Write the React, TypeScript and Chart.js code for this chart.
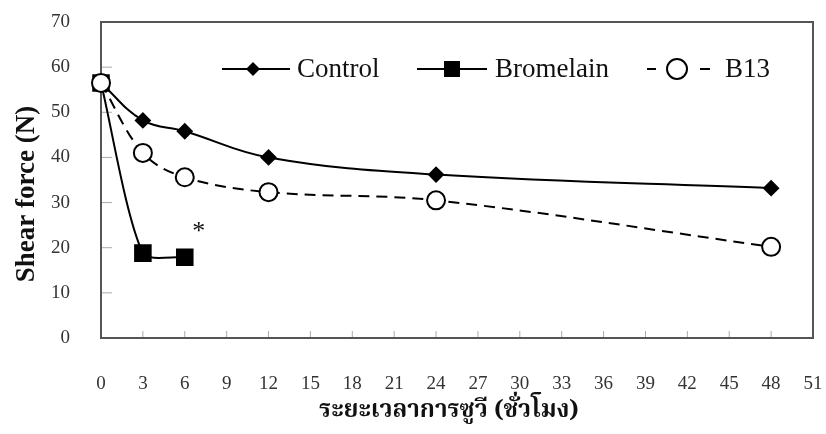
import React, { useEffect, useRef } from "react";
import { Chart, registerables } from "chart.js";

Chart.register(...registerables);

const controlX = [0, 3, 6, 12, 24, 48];
const controlY = [56.5, 48.2, 45.8, 40.0, 36.2, 33.2];
const bromelainX = [0, 3, 6];
const bromelainY = [56.5, 18.8, 17.9];
const b13X = [0, 3, 6, 12, 24, 48];
const b13Y = [56.5, 41.0, 35.6, 32.3, 30.5, 20.2];
const seriesNames = ["Control", "Bromelain", "B13"];
const noteX = [7];
const noteY = [23.5];
const noteText = ["*"];
const xTitle = "ระยะเวลาการซูวี (ชั่วโมง)";
const yTitle = "Shear force (N)";

const toPts = (xs: number[], ys: number[]) => xs.map((x, i) => ({ x, y: ys[i] }));

const SERIF = "'Liberation Serif', 'Times New Roman', serif";

export default function App() {
  const ref = useRef<HTMLCanvasElement | null>(null);
  useEffect(() => {
    document.body.style.margin = "0";
    const ctx = ref.current!.getContext("2d")!;
    const decor = {
      id: "decor",
      beforeDatasetsDraw(chart: any) {
        const c = chart.ctx;
        const a = chart.chartArea;
        const xs = chart.scales.x;
        const ys = chart.scales.y;
        c.save();
        c.lineWidth = 1;
        c.strokeStyle = "#aaa";
        xs.ticks.forEach((t: any) => {
          const px = xs.getPixelForValue(t.value);
          c.beginPath();
          c.moveTo(px, a.bottom);
          c.lineTo(px, a.bottom - 7);
          c.stroke();
        });
        ys.ticks.forEach((t: any) => {
          const py = ys.getPixelForValue(t.value);
          c.beginPath();
          c.moveTo(a.left, py);
          c.lineTo(a.left + 11, py);
          c.stroke();
        });
        c.strokeStyle = "#555";
        c.lineWidth = 2;
        c.strokeRect(a.left, a.top, a.right - a.left, a.bottom - a.top);
        c.restore();
      },
      afterDraw(chart: any) {
        const c = chart.ctx;
        const xs = chart.scales.x;
        const ys = chart.scales.y;
        c.save();
        c.fillStyle = "#111";
        c.font = `26px ${SERIF}`;
        c.textAlign = "center";
        c.textBaseline = "middle";
        noteText.forEach((t, i) => {
          c.fillText(t, xs.getPixelForValue(noteX[i]), ys.getPixelForValue(noteY[i]));
        });
        c.font = `bold 27px ${SERIF}`;
        c.save();
        c.translate(27, 194);
        c.rotate(-Math.PI / 2);
        c.fillText(yTitle, 0, 0);
        c.restore();
        c.font = `bold 24px 'Noto Serif Thai', 'Noto Sans Thai', 'DejaVu Serif', 'DejaVu Sans', serif`;
        c.fillText(xTitle, 449, 413);
        const ly = 69;
        c.font = `27px ${SERIF}`;
        c.textAlign = "left";
        const item = (segs: number[][], cx: number, tx: number, marker: (cx: number) => void, label: string) => {
          c.strokeStyle = "#000";
          c.lineWidth = 2;
          segs.forEach((s) => {
            c.beginPath();
            c.moveTo(s[0], ly);
            c.lineTo(s[1], ly);
            c.stroke();
          });
          marker(cx);
          c.fillStyle = "#111";
          c.fillText(label, tx, ly + 1);
        };
        item([[222, 290]], 253, 297, (cx) => {
          c.fillStyle = "#000";
          c.beginPath();
          c.moveTo(cx, ly - 7);
          c.lineTo(cx + 7, ly);
          c.lineTo(cx, ly + 7);
          c.lineTo(cx - 7, ly);
          c.closePath();
          c.fill();
        }, seriesNames[0]);
        item([[417, 487]], 452, 495, (cx) => {
          c.fillStyle = "#000";
          c.fillRect(cx - 8, ly - 8, 16, 16);
        }, seriesNames[1]);
        item([[647, 656], [700, 710]], 677, 725, (cx) => {
          c.fillStyle = "#fff";
          c.beginPath();
          c.arc(cx, ly, 10, 0, Math.PI * 2);
          c.fill();
          c.stroke();
        }, seriesNames[2]);
        c.restore();
      },
    };
    const chart = new Chart(ctx, {
      type: "line",
      data: {
        datasets: [
          {
            label: seriesNames[2],
            data: toPts(b13X, b13Y),
            borderColor: "#000",
            borderWidth: 2,
            borderDash: [11, 7],
            pointStyle: "circle",
            pointRadius: 9,
            pointBorderWidth: 2,
            pointBackgroundColor: "#fff",
            pointBorderColor: "#000",
            tension: 0.35,
            clip: false,
            order: 0,
          },
          {
            label: seriesNames[0],
            data: toPts(controlX, controlY),
            borderColor: "#000",
            borderWidth: 2,
            pointStyle: "rectRot",
            pointRadius: 7,
            pointBackgroundColor: "#000",
            pointBorderColor: "#000",
            tension: 0.4,
            clip: false,
            order: 1,
          },
          {
            label: seriesNames[1],
            data: toPts(bromelainX, bromelainY),
            borderColor: "#000",
            borderWidth: 2,
            pointStyle: "rect",
            pointRadius: 11,
            pointBackgroundColor: "#000",
            pointBorderColor: "#000",
            tension: 0.25,
            clip: false,
            order: 2,
          },
        ],
      },
      options: {
        responsive: false,
        animation: false,
        layout: { padding: { left: 0, right: 13, top: 22, bottom: 0 } },
        plugins: { legend: { display: false }, tooltip: { enabled: false } },
        scales: {
          x: {
            type: "linear",
            min: 0,
            max: 51,
            grid: { display: false, drawTicks: false },
            border: { display: false },
            ticks: { stepSize: 3, padding: 35, color: "#333", font: { family: SERIF, size: 19 } },
            afterFit: (s: any) => { s.height = 96; s.paddingLeft = 0; s.paddingRight = 0; },
          },
          y: {
            min: 0,
            max: 70,
            grid: { display: false, drawTicks: false },
            border: { display: false },
            ticks: { stepSize: 10, padding: 31, color: "#333", font: { family: SERIF, size: 19 } },
            afterFit: (s: any) => { s.width = 101; s.paddingTop = 0; s.paddingBottom = 0; },
          },
        },
      },
      plugins: [decor],
    } as any);
    return () => chart.destroy();
  }, []);
  return <canvas ref={ref} width={826} height={434} style={{ display: "block" }} />;
}
